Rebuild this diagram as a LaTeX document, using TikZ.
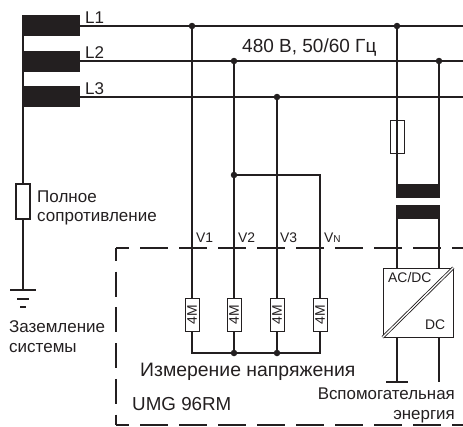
\documentclass[tikz,border=0pt]{standalone}
\usepackage{fontspec}
\setmainfont{Liberation Sans}
\definecolor{ink}{HTML}{231F20}
\tikzset{
  wire/.style={draw=ink, line width=2pt},
  coil/.style={fill=ink, draw=none},
  thinbox/.style={draw=ink, line width=0.6pt, fill=white, inner sep=0pt},
  rbox/.style={thinbox, minimum width=14pt, minimum height=33pt},
  dot/.style={circle, fill=ink, inner sep=0pt, minimum size=6.5pt},
  txt/.style={text=ink, anchor=base west, inner sep=0pt, font=\fontsize{17}{19}\selectfont},
  smalltxt/.style={txt, font=\fontsize{13.9}{16}\selectfont},
  border/.style={draw=ink, line width=2pt}
}
\begin{document}
\begin{tikzpicture}[x=1pt, y=-1pt]
  \useasboundingbox (0,0) rectangle (463,426);
  % phase bars
  \fill[coil] (22,15) rectangle (80,36);
  \fill[coil] (22,51) rectangle (80,72);
  \fill[coil] (22,86) rectangle (80,107);
  \coordinate (l1) at (80,26);
  \coordinate (l2) at (80,61);
  \coordinate (l3) at (80,97);
  \coordinate (l1end) at (463,26);
  \coordinate (l2end) at (463,61);
  \coordinate (l3end) at (463,97);
  \draw[wire] (l1) -- (l1end);
  \draw[wire] (l2) -- (l2end);
  \draw[wire] (l3) -- (l3end);
  \node[txt] (labl1) at (85,23) {L1};
  \node[txt] (labl2) at (85,58) {L2};
  \node[txt] (labl3) at (85,94) {L3};
  \node[txt, font=\fontsize{19}{21}\selectfont] (volt) at (242,52) {480 В, 50/60 Гц};
  % earth side
  \coordinate (star) at (23,15);
  \coordinate (earth) at (23,290);
  \coordinate (earthl) at (10,290);
  \coordinate (earthr) at (36,290);
  \coordinate (earthml) at (17,298.5);
  \coordinate (earthmr) at (29,298.5);
  \coordinate (earthsl) at (20,307);
  \coordinate (earthsr) at (26,307);
  \draw[wire] (star) -- (earth);
  \draw[wire] (earthl) -- (earthr);
  \draw[wire] (earthml) -- (earthmr);
  \draw[wire] (earthsl) -- (earthsr);
  \node[rbox, draw=ink, line width=1.6pt, minimum height=35pt] (imp) at (23,201.5) {};
  \node[txt] (imp1) at (37,202) {Полное};
  \node[txt] (imp2) at (37,221) {сопротивление};
  \node[txt] (gnd1) at (9,332) {Заземление};
  \node[txt] (gnd2) at (9,352) {системы};
  % measuring inputs
  \node[dot] (j1) at (192,26) {};
  \node[dot] (j2) at (234,61) {};
  \node[dot] (j3) at (277,97) {};
  \node[dot] (jn) at (234,175) {};
  \coordinate (nc) at (320,175);
  \node[dot] (b2) at (234,353) {};
  \node[dot] (b3) at (277,353) {};
  \coordinate (b1) at (192,353);
  \coordinate (bn) at (320,353);
  \draw[wire] (j1) -- (b1) -- (b2) -- (b3) -- (bn) -- (nc) -- (jn);
  \draw[wire] (j2) -- (b2);
  \draw[wire] (j3) -- (b3);
  \node[rbox] (r1) at (192,314.5) {};
  \node[rbox] (r2) at (234,314.5) {};
  \node[rbox] (r3) at (277,314.5) {};
  \node[rbox] (r4) at (320,314.5) {};
  \node[smalltxt, anchor=center, rotate=90] (m1) at (192,314.5) {4M};
  \node[smalltxt, anchor=center, rotate=90] (m2) at (234,314.5) {4M};
  \node[smalltxt, anchor=center, rotate=90] (m3) at (277,314.5) {4M};
  \node[smalltxt, anchor=center, rotate=90] (m4) at (320,314.5) {4M};
  \node[smalltxt] (v1) at (196,242) {V1};
  \node[smalltxt] (v2) at (238,242) {V2};
  \node[smalltxt] (v3) at (280,242) {V3};
  \node[smalltxt] (vn) at (324,242) {V{\fontsize{10}{12}\selectfont N}};
  % supply branch
  \node[dot] (j4) at (397,26) {};
  \node[dot] (j5) at (439,61) {};
  \fill[coil] (396,184) rectangle (440,198);
  \fill[coil] (396,205) rectangle (440,219);
  \coordinate (tr1) at (397,184);
  \coordinate (tr2) at (439,184);
  \coordinate (tr3) at (397,219);
  \coordinate (tr4) at (439,219);
  \coordinate (in1) at (397,268);
  \coordinate (in2) at (439,268);
  \coordinate (out1) at (397,382);
  \coordinate (out2) at (439,382);
  \coordinate (out1l) at (386,382);
  \coordinate (out1r) at (408,382);
  \draw[wire] (j4) -- (tr1);
  \draw[wire] (j5) -- (tr2);
  \draw[wire] (tr3) -- (in1);
  \draw[wire] (tr4) -- (in2);
  \draw[wire] (out1l) -- (out1r);
  \node[thinbox, minimum width=14pt, minimum height=33pt, fill=none] (fuse) at (397,136.5) {};
  \node[thinbox, minimum width=70pt, minimum height=69pt] (conv) at (418,302.5) {};
  \draw[wire] (conv.south -| in1) -- (out1);
  \draw[wire] (conv.south -| in2) -- (out2);
  \draw[ink, line width=3pt] (conv.south west) -- (conv.north east);
  \draw[white, line width=1.3pt] (conv.south west) -- (conv.north east);
  \node[smalltxt] (ac) at (388,282) {AC/DC};
  \node[smalltxt] (dc) at (425,329) {DC};
  \node[txt, font=\fontsize{16.9}{19}\selectfont, anchor=base east] (aux1) at (455,399) {Вспомогательная};
  \node[txt, font=\fontsize{16.9}{19}\selectfont, anchor=base east] (aux2) at (455,419) {энергия};
  % device frame
  \coordinate (ftr) at (463,248);
  \coordinate (ftl) at (116,248);
  \coordinate (fbl) at (116,425);
  \coordinate (fbr) at (463,425);
  \draw[border, dash pattern=on 28pt off 11pt, dash phase=15pt] (ftl) -- (ftr);
  \draw[border, dash pattern=on 25pt off 10.7pt, dash phase=12pt] (ftl) -- (fbl);
  \draw[border, dash pattern=on 28pt off 11pt, dash phase=15pt] (fbl) -- (fbr);
  \node[txt, font=\fontsize{19.4}{21}\selectfont] (meas) at (140,376) {Измерение напряжения};
  \node[txt, font=\fontsize{18.8}{21}\selectfont] (umg) at (132,410) {UMG 96RM};
\end{tikzpicture}
\end{document}
